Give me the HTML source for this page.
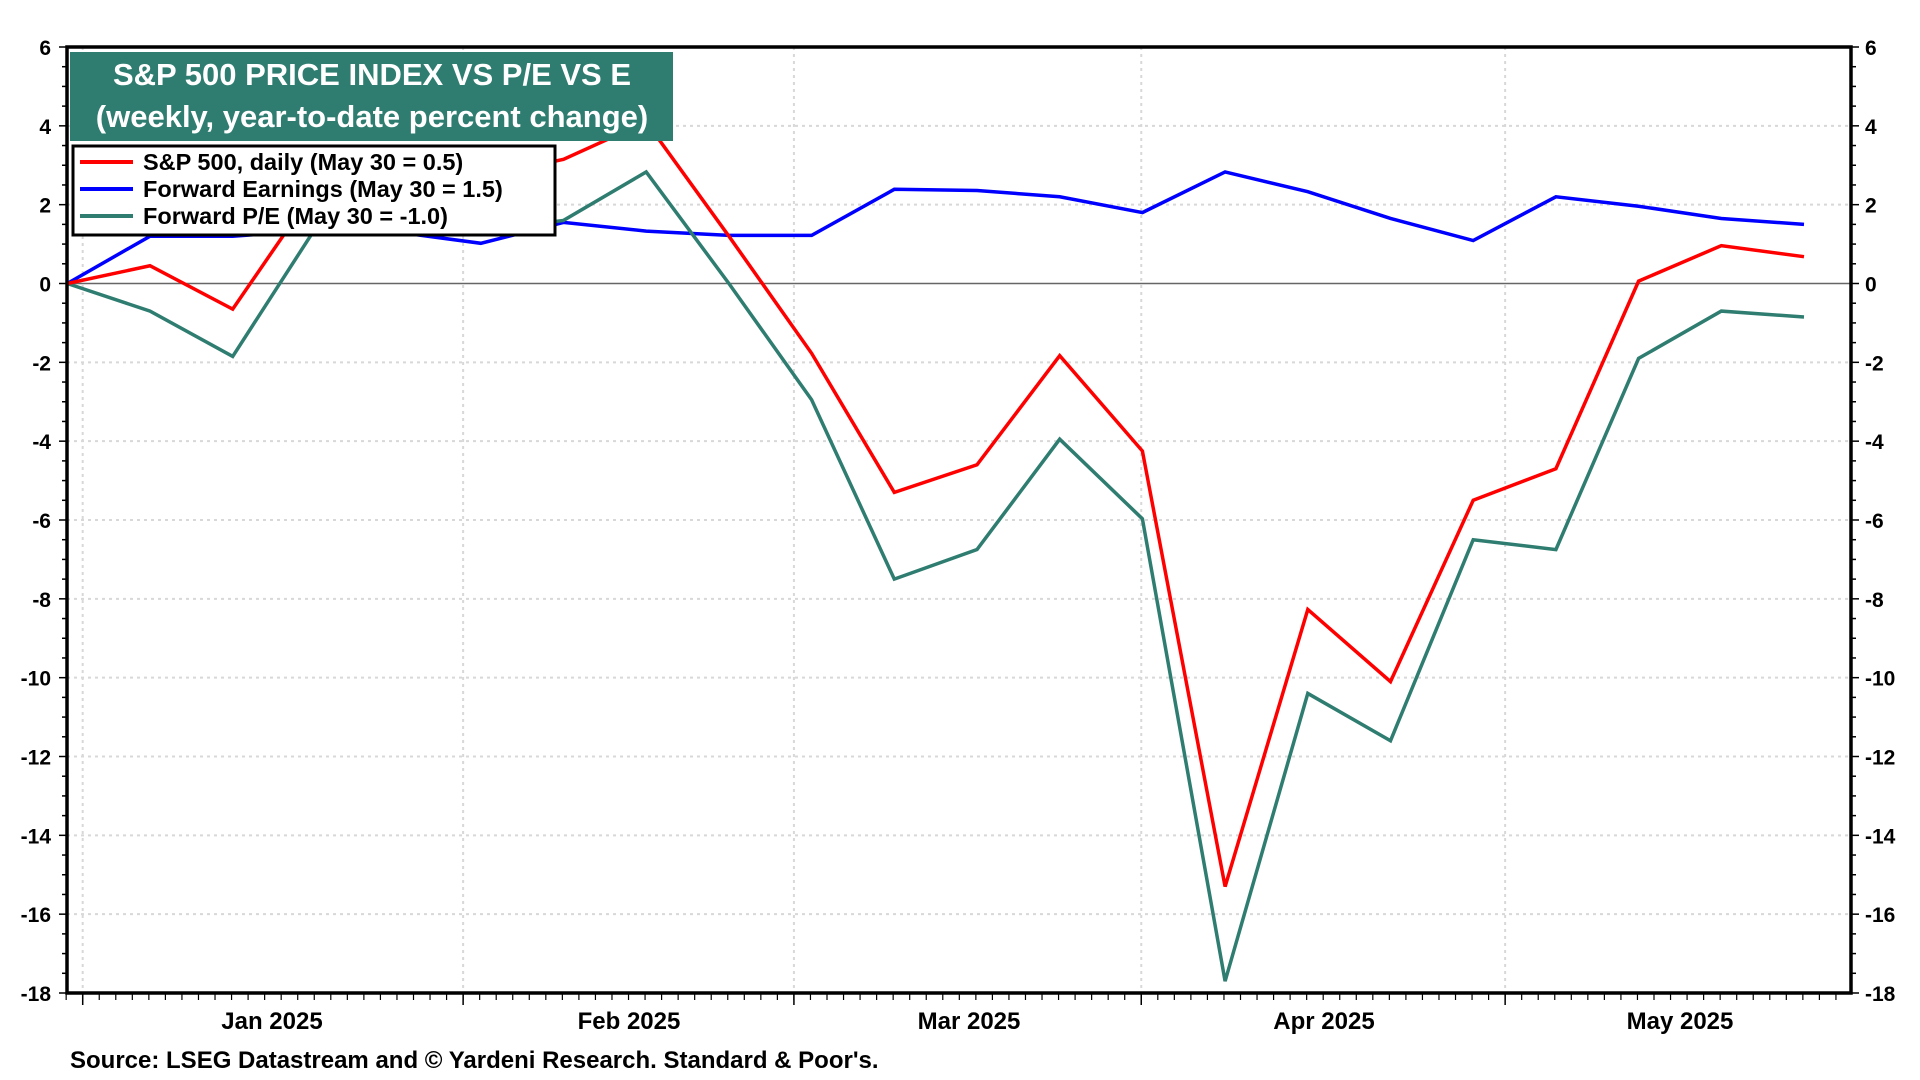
<!DOCTYPE html>
<html><head><meta charset="utf-8"><style>
html,body{margin:0;padding:0;background:#fff;}
svg{display:block;font-family:"Liberation Sans",Arial,sans-serif;font-weight:bold;}
</style></head><body>
<svg id="chart" width="1920" height="1080" viewBox="0 0 1920 1080">
<g id="grid"></g>
<g id="series"></g>
<g id="axes"></g>
<rect x="70" y="52" width="603" height="89" fill="#2e7d70"/>
<text x="372" y="85" text-anchor="middle" font-size="31" fill="#fff">S&amp;P 500 PRICE INDEX VS P/E VS E</text>
<text x="372" y="127" text-anchor="middle" font-size="31" fill="#fff">(weekly, year-to-date percent change)</text>
<g>
<rect x="73" y="146" width="482" height="89" fill="#fff" stroke="#000" stroke-width="3"/>
<line x1="80" y1="162" x2="133" y2="162" stroke="#ff0000" stroke-width="4"/>
<text x="143" y="170" font-size="23.5">S&amp;P 500, daily (May 30 = 0.5)</text>
<line x1="80" y1="189" x2="133" y2="189" stroke="#0000ff" stroke-width="4"/>
<text x="143" y="197" font-size="23.5">Forward Earnings (May 30 = 1.5)</text>
<line x1="80" y1="216" x2="133" y2="216" stroke="#2e7d70" stroke-width="4"/>
<text x="143" y="224" font-size="23.5">Forward P/E (May 30 = -1.0)</text>
</g>
<text x="70" y="1068" font-size="24">Source: LSEG Datastream and © Yardeni Research. Standard &amp; Poor's.</text>
</svg>
<script>
const spx = [0,0.45,-0.65,2.4,2.6,2.7,3.15,4.1,1.2,-1.77,-5.3,-4.6,-1.83,-4.25,-15.3,-8.27,-10.1,-5.5,-4.7,0.06,0.96,0.68];
const earnings = [0,1.2,1.2,1.35,1.3,1.02,1.55,1.33,1.22,1.22,2.39,2.36,2.2,1.8,2.83,2.33,1.65,1.09,2.2,1.96,1.65,1.5];
const pe = [0,-0.7,-1.85,1.4,1.45,1.35,1.6,2.83,0,-2.95,-7.5,-6.75,-3.95,-5.97,-17.7,-10.4,-11.6,-6.5,-6.75,-1.9,-0.7,-0.85];
const yTicks = [-18,-16,-14,-12,-10,-8,-6,-4,-2,0,2,4,6];
const months = ["Jan 2025","Feb 2025","Mar 2025","Apr 2025","May 2025"];
const monthStartDay = [0,23,43,64,86];
const monthLabelX = [272,629,969,1324,1680];

const L=67, R=1851, T=47, B=993, yMin=-18, yMax=6;
const NS="http://www.w3.org/2000/svg";
function y(v){return B-(v-yMin)/(yMax-yMin)*(B-T);}
function xw(i){return 67.3+i*82.7;}
function xd(d){return 82.7+d*16.54;}
function mk(tag,attrs,parent){const e=document.createElementNS(NS,tag);for(const k in attrs)e.setAttribute(k,attrs[k]);parent.appendChild(e);return e;}
const grid=document.getElementById('grid'), axes=document.getElementById('axes'), ser=document.getElementById('series');

yTicks.forEach(v=>{
  if(v!==0&&v!==yMin&&v!==yMax){
    const g=mk('line',{x1:L,x2:R,y1:y(v),y2:y(v),stroke:'#d8d8d8','stroke-width':2,'stroke-dasharray':'3,4'},grid);
    
    
  }
  const tl=mk('text',{x:L-16,y:y(v)+8,'text-anchor':'end','font-size':21},axes);
  tl.textContent=v;
  
  
  const tr=mk('text',{x:R+14,y:y(v)+8,'text-anchor':'start','font-size':21},axes);
  tr.textContent=v;
  
  
});
for(let v=yMin;v<=yMax;v+=0.5){
  const big=Number.isInteger(v/2);
  const a=mk('line',{x1:L-(big?8:5),x2:L,y1:y(v),y2:y(v),stroke:'#000','stroke-width':1.5},axes);
  
  
  const b=mk('line',{x1:R,x2:R+(big?8:5),y1:y(v),y2:y(v),stroke:'#000','stroke-width':1.5},axes);
  
  
}
const z=mk('line',{x1:L,x2:R,y1:y(0),y2:y(0),stroke:'#666','stroke-width':1.5},grid);



monthStartDay.forEach((d,i)=>{
  const g=mk('line',{x1:xd(d),x2:xd(d),y1:T,y2:B,stroke:'#d8d8d8','stroke-width':2,'stroke-dasharray':'3,4'},grid);
  
  
  const t=mk('line',{x1:xd(d),x2:xd(d),y1:B,y2:B+12,stroke:'#000','stroke-width':1.5},axes);
  
  
  const lb=mk('text',{x:monthLabelX[i],y:1029,'text-anchor':'middle','font-size':24},axes);
  lb.textContent=months[i];
  
  
});
for(let d=-1;xd(d)<R;d++){
  const t=mk('line',{x1:xd(d),x2:xd(d),y1:B,y2:B+7,stroke:'#000','stroke-width':1.2},axes);
  
  
}

function line(data,color,name){
  const p=mk('polyline',{points:data.map((v,i)=>xw(i)+','+y(v)).join(' '),fill:'none',stroke:color,'stroke-width':3.5,'stroke-linejoin':'miter'},ser);
  
  
}
line(earnings,'#0000ff','line-forward-earnings');
line(pe,'#2e7d70','line-forward-pe');
line(spx,'#ff0000','line-sp500');

const fr=mk('rect',{x:L,y:T,width:R-L,height:B-T,fill:'none',stroke:'#000','stroke-width':3.5},axes);


</script>
</body></html>
